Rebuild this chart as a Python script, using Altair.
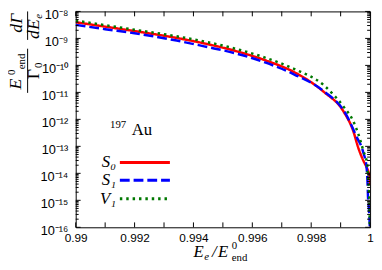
import altair as alt
import pandas as pd

SERIF = "Liberation Serif"
SANS = "Liberation Sans"

series_names = ["S₀", "S₁", "V₁"]
series_colors = ["#ff0000", "#0000ff", "#007800"]
series_dashes = [[1, 0], [10, 4], [2.5, 4]]

# S0 (red, solid)
s0_x = [0.99000, 0.99100, 0.99200, 0.99343, 0.99443, 0.99543, 0.99643, 0.99743,
        0.99843, 0.99910, 0.99943, 0.99960, 0.99977, 0.99987, 0.99995, 0.99999, 1.00000]
s0_y = [3.98e-9, 2.73e-9, 1.87e-9, 1.04e-9, 6.31e-10, 3.43e-10, 1.56e-10, 5.56e-11,
        1.04e-11, 1.95e-12, 3.66e-13, 8.81e-14, 2.97e-14, 1.80e-14, 1.12e-14, 7.9e-15, 3.6e-15]

# S1 (blue, dashed)
s1_x = [0.99000, 0.99100, 0.99200, 0.99343, 0.99443, 0.99543, 0.99643, 0.99743,
        0.99843, 0.99916, 0.99953, 0.99977, 0.99988, 0.99991, 0.99993, 0.99997, 0.99999]
s1_y = [3.18e-9, 2.2e-9, 1.55e-9, 8.32e-10, 4.91e-10, 2.80e-10, 1.29e-10, 4.59e-11,
        1.10e-11, 1.69e-12, 2.41e-13, 5.95e-14, 1.69e-14, 5.56e-15, 1.37e-15, 3.5e-16, 1.1e-16]

# V1 (green, dotted)
v1_x = [0.99000, 0.99100, 0.99200, 0.99343, 0.99443, 0.99543, 0.99643, 0.99743,
        0.99843, 0.99877, 0.99910, 0.99943, 0.99966, 0.99977, 0.99990, 0.99993,
        0.99997, 0.99999]
v1_y = [4.59e-9, 3.1e-9, 2.1e-9, 1.20e-9, 7.46e-10, 4.15e-10, 1.95e-10, 7.33e-11,
        1.83e-11, 7.91e-12, 2.97e-12, 8.46e-13, 1.83e-13, 6.86e-14, 2.25e-14, 7.33e-15,
        1.37e-15, 1.1e-16]

x_tick_values = [0.990, 0.992, 0.994, 0.996, 0.998, 1.000]
x_minor_values = [0.990, 0.991, 0.992, 0.993, 0.994, 0.995, 0.996, 0.997, 0.998, 0.999, 1.000]
y_exponents = [-8, -9, -10, -11, -12, -13, -14, -15, -16]
y_tick_labels = ["10⁻⁸", "10⁻⁹", "10⁻¹⁰", "10⁻¹¹", "10⁻¹²", "10⁻¹³", "10⁻¹⁴", "10⁻¹⁵", "10⁻¹⁶"]
y_tick_values = [10.0 ** e for e in y_exponents]
y_minor_values = [m * 10.0 ** e for e in range(-16, -8) for m in range(2, 10)]

rows = []
for name, xs, ys in zip(series_names, [s0_x, s1_x, v1_x], [s0_y, s1_y, v1_y]):
    for i, (a, b) in enumerate(zip(xs, ys)):
        rows.append({"series": name, "x": a, "y": b, "i": i})
df = pd.DataFrame(rows)

W, H = 300, 220

xscale = alt.Scale(domain=[0.99, 1.0], nice=False, zero=False)
yscale = alt.Scale(type="log", domain=[1e-16, 1e-8], nice=False)

label_expr = ""
for e, lab in zip(y_exponents, y_tick_labels):
    label_expr += f"round(log(datum.value)/LN10) == {e} ? '{lab}' : "
label_expr += "''"

xaxis = alt.Axis(values=x_tick_values, format="~g", title=None, ticks=False, grid=False,
                 domain=False, labelFont=SANS, labelFontSize=12, labelColor="black",
                 labelPadding=5, labelFlush=False)
yaxis = alt.Axis(values=y_tick_values, labelExpr=label_expr, title=None, ticks=False,
                 grid=False, domain=False, labelFont=SANS, labelFontSize=13,
                 labelColor="black", labelPadding=8, labelOffset=3, labelFlush=False)

lines = alt.Chart(df).mark_line(strokeWidth=2.5, clip=True, interpolate="monotone").encode(
    x=alt.X("x:Q", scale=xscale, axis=xaxis),
    y=alt.Y("y:Q", scale=yscale, axis=yaxis),
    color=alt.Color("series:N", scale=alt.Scale(domain=series_names, range=series_colors), legend=None),
    strokeDash=alt.StrokeDash("series:N", scale=alt.Scale(domain=series_names, range=series_dashes), legend=None),
    order="i:Q",
)

xt = pd.DataFrame({"x": x_minor_values})
yt = pd.DataFrame({"y": y_tick_values})
ym = pd.DataFrame({"y": y_minor_values})

def xr(y1, y2):
    return alt.Chart(xt).mark_rule(color="black", strokeWidth=1).encode(
        x=alt.X("x:Q", scale=xscale, axis=xaxis), y=alt.value(y1), y2=alt.value(y2))

def yr(d, x1, x2):
    return alt.Chart(d).mark_rule(color="black", strokeWidth=1).encode(
        y=alt.Y("y:Q", scale=yscale, axis=yaxis), x=alt.value(x1), x2=alt.value(x2))

ticks = [xr(H, H - 5), xr(0, 5), yr(yt, 0, 5), yr(yt, W, W - 5), yr(ym, 0, 3), yr(ym, W, W - 3)]

def txt(s, x, y, size, italic=True, angle=0, align="left", baseline="alphabetic"):
    return alt.Chart(alt.Data(values=[{"t": s}])).mark_text(
        text=s, angle=angle, align=align, baseline=baseline, font=SERIF,
        fontSize=size, fontStyle="italic" if italic else "normal", color="black"
    ).encode(x=alt.value(x), y=alt.value(y))

def seg(x1, x2, y1, y2, color="black", width=1, dash=None):
    kw = {"color": color, "strokeWidth": width}
    if dash is not None:
        kw["strokeDash"] = dash
    return alt.Chart(alt.Data(values=[{"t": 0}])).mark_rule(**kw).encode(
        x=alt.value(x1), x2=alt.value(x2), y=alt.value(y1), y2=alt.value(y2))

ytitle = [
    txt("E", -56, 74, 18, True, 270, "center"),
    txt("0", -62, 62, 11, False, 270, "center"),
    txt("end", -52, 51, 11, False, 270, "center"),
    seg(-49, -49, 38, 83),
    txt("Γ", -37, 64, 18, False, 270, "center"),
    txt("0", -34, 55, 11, False, 270, "center"),
    txt("dΓ", -55, 12, 18, True, 270, "center"),
    seg(-49, -49, 0, 29),
    txt("dE", -37, 18, 18, True, 270, "center"),
    txt("e", -34, 5, 11, True, 270, "center"),
]

xtitle = [
    txt("E", 120, 250, 17, True),
    txt("e", 131, 253, 11, True),
    txt("/", 139, 250, 17, True),
    txt("E", 145, 250, 17, True),
    txt("0", 159, 242, 11, False),
    txt("end", 159, 254, 11, False),
]

annot = [
    txt("197", 35, 119, 11, False),
    txt("Au", 57, 126, 17, False),
]

legend_rows = [154, 172, 191]
legend = []
for name, col, dash, ly in zip(series_names, series_colors, series_dashes, legend_rows):
    legend.append(txt(name, 41, ly + 5, 17, True, 0, "right", "alphabetic"))
    legend.append(seg(45, 96, ly, ly, col, 3, dash))

chart = alt.layer(lines, *ticks, *ytitle, *xtitle, *annot, *legend).properties(
    width=W, height=H,
    autosize=alt.AutoSizeParams(type="none"),
    padding={"left": 69, "top": 1, "right": 4, "bottom": 40},
    background="white",
).configure_view(stroke="black", strokeWidth=1)

chart.save("out.html", embed_options={"renderer": "svg", "actions": False})
